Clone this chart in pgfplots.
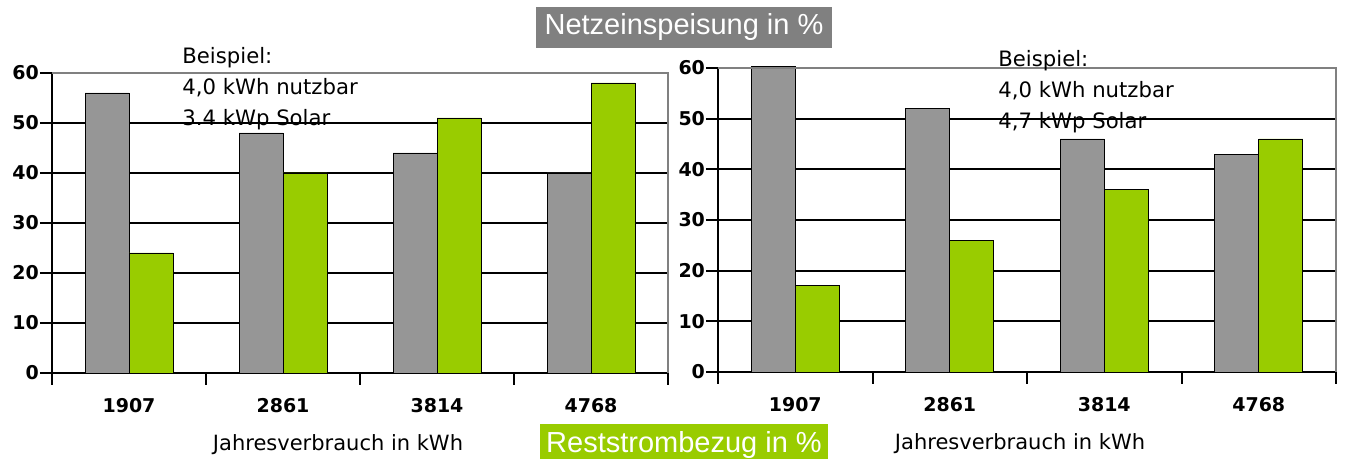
\documentclass[border=0pt]{standalone}
\usepackage{fontspec}
\setmainfont{DejaVu Sans}
\newfontfamily\arial{Liberation Sans}
\usepackage{pgfplots}
\pgfplotsset{compat=1.18}
\definecolor{bargray}{RGB}{150,150,150}
\definecolor{bargreen}{RGB}{153,204,0}
\definecolor{boxgray}{RGB}{128,128,128}
\pgfplotsset{
  mychart/.style={
    scale only axis, anchor=south west, clip=false,
    ybar=0pt, bar width=22pt,
    xmin=-0.5, xmax=3.5, ymin=0, ymax=60,
    ytick={0,10,...,60},
    xtick={-0.5,0.5,1.5,2.5,3.5}, xticklabels={},
    extra x ticks={0,1,2,3},
    extra x tick labels={1907,2861,3814,4768},
    extra x tick style={major tick length=0pt, grid=none},
    axis lines=left, axis line style={-, black, line width=1pt},
    tick align=outside, tick style={black, line width=1pt},
    major tick length=6pt,
    ymajorgrids=true, grid style={black, line width=1pt},
    /pgf/number format/assume math mode=true,
    yticklabel style={font=\bfseries\fontsize{9.5}{12}\selectfont, xshift=3pt},
    xticklabel style={font=\bfseries\fontsize{9.5}{12}\selectfont, yshift=-9pt},
    xlabel={Jahresverbrauch in kWh},
    xlabel style={font=\fontsize{10.5}{12}\selectfont, yshift=2pt},
    every axis plot/.append style={draw=black, line width=0.4pt},
  }
}
\begin{document}
\begin{tikzpicture}
\useasboundingbox (0,0) rectangle (673.5pt,229.5pt);
\clip (0,0) rectangle (673.5pt,229.5pt);
\begin{axis}[mychart, at={(26pt,43pt)}, width=308pt, height=150pt,
  xlabel style={xshift=-11pt}]
\addplot[fill=bargray] coordinates {(0,56) (1,48) (2,44) (3,40)};
\addplot[fill=bargreen] coordinates {(0,24) (1,40) (2,51) (3,58)};
\draw[boxgray, line width=1pt] (rel axis cs:0,1) -- (rel axis cs:1,1) -- (rel axis cs:1,0);
\end{axis}
\begin{axis}[mychart, at={(359pt,43.5pt)}, width=309pt, height=152pt,
  xlabel style={xshift=-3.5pt}]
\addplot[fill=bargray] coordinates {(0,60.3) (1,52) (2,46) (3,43)};
\addplot[fill=bargreen] coordinates {(0,17) (1,26) (2,36) (3,46)};
\draw[boxgray, line width=1pt] (rel axis cs:0,1) -- (rel axis cs:1,1) -- (rel axis cs:1,0);
\end{axis}
\node[anchor=north west, align=left, inner sep=0pt, font=\fontsize{10.6}{15.5}\selectfont]
  at (91pt,206pt) {Beispiel:\\4,0 kWh nutzbar\\3.4 kWp Solar};
\node[anchor=north west, align=left, inner sep=0pt, font=\fontsize{10.6}{15.5}\selectfont]
  at (499pt,204.5pt) {Beispiel:\\4,0 kWh nutzbar\\4,7 kWp Solar};
\fill[boxgray] (268pt,205.5pt) rectangle (416pt,226pt);
\node[text=white, font=\arial\fontsize{14.5}{16}\selectfont] at (342pt,215.75pt) {Netzeinspeisung in \%};
\fill[bargreen] (270pt,-3pt) rectangle (414pt,17.5pt);
\node[text=white, font=\arial\fontsize{14.5}{16}\selectfont] at (342pt,7pt) {Reststrombezug in \%};
\end{tikzpicture}
\end{document}
